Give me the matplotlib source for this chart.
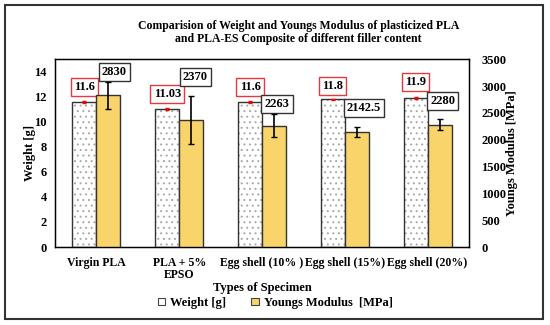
import matplotlib.pyplot as plt
from matplotlib.patches import Patch, Rectangle
from numpy import arange

# Datos
categories = ["Virgin PLA", "PLA + 5%\nEPSO", "Egg shell (10% )",
              "Egg shell (15%)", "Egg shell (20%)"]
weight = [11.6, 11.03, 11.6, 11.8, 11.9]
weight_err = [0.06, 0.06, 0.08, 0.06, 0.06]
weight_labels = ["11.6", "11.03", "11.6", "11.8", "11.9"]
modulus = [2830, 2370, 2263, 2142.5, 2280]
modulus_err = [250, 445, 220, 100, 107]
modulus_labels = ["2830", "2370", "2263", "2142.5", "2280"]

# Desplazamiento de las etiquetas (pixeles)
w_offsets = [(0, 15), (0, 15), (0, 15), (0, 13), (0, 16)]
m_offsets = [(6, 23), (4, 43), (3, 22), (7, 24), (3, 24)]

plt.rcParams["font.family"] = ["Liberation Serif", "DejaVu Serif"]
plt.rcParams["font.weight"] = "bold"
plt.rcParams["hatch.linewidth"] = 0.7

yellow = "#F9D46A"
edge = "#333333"

fig = plt.figure(figsize=(5.5, 3.25), dpi=100)
ax = fig.add_axes([0.1, 0.24, 0.7527, 0.5775])
ax2 = ax.twinx()

x = arange(len(categories))
w = 0.29

# Barras de peso (punteadas)
ax.bar(x - w / 2, weight, w, color="white", hatch="...",
       edgecolor="#a8a8a8", linewidth=0, zorder=2)
ax.bar(x - w / 2, weight, w, fill=False, edgecolor=edge,
       linewidth=1.0, zorder=3)
ax.errorbar(x - w / 2, weight, yerr=weight_err, fmt="none",
            ecolor="red", elinewidth=1.5, capsize=1.5, zorder=4)

# Barras del modulo
ax2.bar(x + w / 2, modulus, w, color=yellow, edgecolor=edge,
        linewidth=1.0, zorder=2)
ax2.errorbar(x + w / 2, modulus, yerr=modulus_err, fmt="none",
             ecolor="black", elinewidth=1.2, capsize=2.5, zorder=4)

# Etiquetas de datos
for i in range(len(categories)):
    ax.annotate(weight_labels[i], (x[i] - w / 2, weight[i]),
                xytext=w_offsets[i], textcoords="offset pixels",
                ha="center", va="center", fontsize=9, fontweight="bold",
                bbox=dict(boxstyle="square,pad=0.25", fc="white",
                          ec="#e8383d", lw=1.0))
    ax2.annotate(modulus_labels[i], (x[i] + w / 2, modulus[i]),
                 xytext=m_offsets[i], textcoords="offset pixels",
                 ha="center", va="center", fontsize=9, fontweight="bold",
                 bbox=dict(boxstyle="square,pad=0.25", fc="white",
                           ec="#333333", lw=1.0))

# Limites
ax.set_xlim(-0.5, len(categories) - 0.5)
ax.set_ylim(0, 15)
ax2.set_ylim(0, 3500)
ax.set_yticks(arange(0, 16, 2))
ax2.set_yticks(arange(0, 3501, 500))
ax.set_xticks(x)
ax.set_xticklabels(categories, fontsize=8.5, fontweight="bold",
                   linespacing=1.0)
ax.tick_params(axis="x", length=0, labelsize=8.5, pad=7)
ax.tick_params(axis="y", length=0, labelsize=9, pad=6)
ax2.tick_params(axis="y", length=0, labelsize=9, pad=9)
for lab in ax.get_yticklabels() + ax2.get_yticklabels():
    lab.set_fontweight("bold")

for sp in ax.spines.values():
    sp.set_color("black")
    sp.set_linewidth(1.0)

ax.set_ylabel("Weight [g]", fontsize=9, fontweight="bold", labelpad=-1)
ax2.set_ylabel("Youngs Modulus [MPa]", fontsize=9, fontweight="bold",
               labelpad=0)
ax.set_xlabel("Types of Specimen", fontsize=9, fontweight="bold",
              labelpad=1)

fig.text(0.543, 0.9, "Comparision of Weight and Youngs Modulus of "
         "plasticized PLA\nand PLA-ES Composite of different filler content",
         ha="center", va="center", fontsize=8.5, fontweight="bold",
         linespacing=1.2)

# Leyenda
handles = [Patch(fc="white", ec="#444444", lw=0.8, label="Weight [g]"),
           Patch(fc=yellow, ec="#444444", lw=0.8,
                 label="Youngs Modulus  [MPa]")]
fig.legend(handles=handles, loc="center", bbox_to_anchor=(0.5, 0.068),
           ncol=2, frameon=False, fontsize=9, handlelength=0.6,
           handleheight=0.6, handletextpad=0.4, columnspacing=2.0)

# Marco exterior
fig.patches.append(Rectangle((0.009, 0.02), 0.979, 0.965,
                             transform=fig.transFigure, fill=False,
                             ec="#333333", lw=1.5))

plt.savefig("out.png", dpi=100)
